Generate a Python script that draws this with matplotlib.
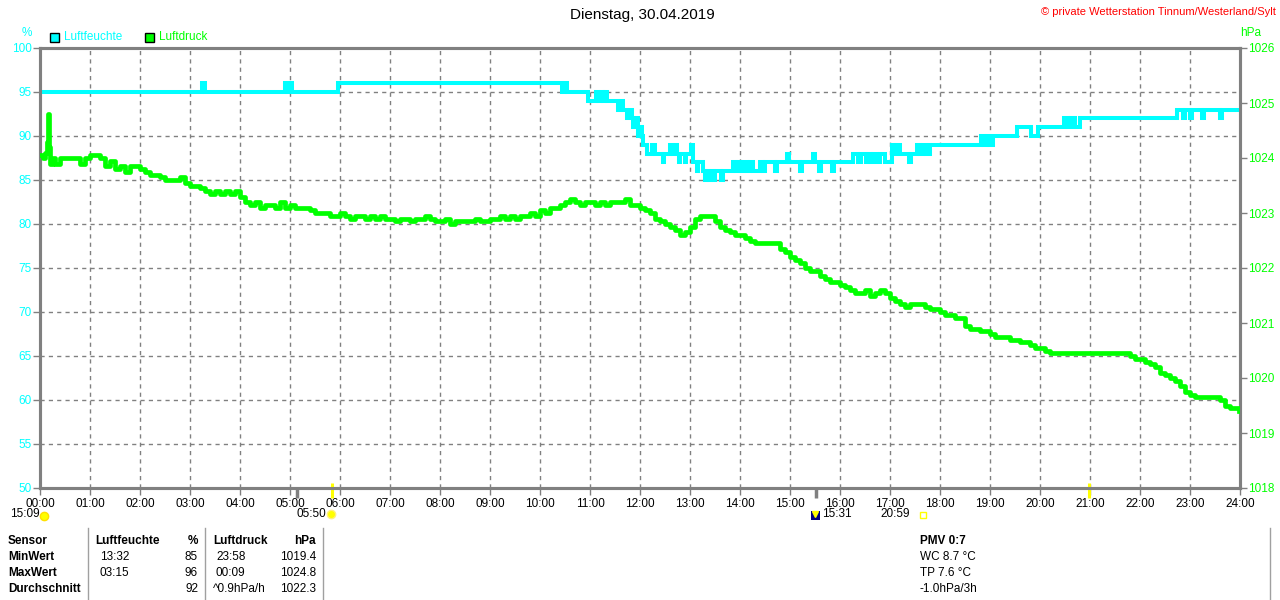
import matplotlib
matplotlib.use("Agg")
import matplotlib.pyplot as plt
from matplotlib.lines import Line2D
from matplotlib.patches import Rectangle

plt.rcParams['font.family'] = ['Liberation Sans', 'DejaVu Sans']

# ---------------- data ----------------
hum_t = [0, 3.24, 3.30, 4.90, 4.94, 4.96, 5.04, 5.96, 10.44, 10.50, 10.54, 10.96, 11.12, 11.16,
         11.22, 11.26, 11.30, 11.34, 11.56, 11.62, 11.66, 11.74, 11.80, 11.84, 11.86, 11.92,
         11.96, 12.00, 12.04, 12.06, 12.14, 12.24, 12.30, 12.46, 12.48, 12.60, 12.66, 12.70,
         12.74, 12.78, 12.80, 12.90, 12.92, 13.02, 13.06, 13.14, 13.16, 13.26, 13.30, 13.34,
         13.38, 13.42, 13.48, 13.50, 13.62, 13.66, 13.80, 13.86, 13.92, 13.96, 14.02, 14.08,
         14.14, 14.20, 14.26, 14.40, 14.46, 14.50, 14.70, 14.74, 14.94, 14.98, 15.20, 15.24,
         15.46, 15.50, 15.58, 15.62, 15.84, 15.88, 16.26, 16.36, 16.42, 16.52, 16.56, 16.62,
         16.66, 16.74, 16.80, 16.90, 17.04, 17.08, 17.12, 17.20, 17.26, 17.38, 17.42, 17.54,
         17.60, 17.66, 17.72, 17.80, 18.82, 18.88, 18.94, 18.98, 19.06, 19.54, 19.82, 19.96,
         20.48, 20.56, 20.62, 20.70, 20.80, 22.74, 22.86, 22.90, 23.00, 23.04, 23.24, 23.28,
         23.60, 23.64, 24.0]
hum_v = [95, 96, 95, 96, 95, 96, 95, 96, 95, 96, 95, 94, 95, 94,
         95, 94, 95, 94, 93, 94, 93, 92, 93, 92, 91, 92,
         90, 91, 90, 89, 88, 89, 88, 87, 88, 89, 88, 89,
         88, 87, 88, 87, 88, 89, 87, 86, 87, 86, 85, 86,
         85, 86, 85, 86, 85, 86, 86, 87, 86, 87, 86, 87,
         86, 87, 86, 87, 86, 87, 86, 87, 88, 87, 86, 87,
         88, 87, 86, 87, 86, 87, 88, 87, 88, 87, 88, 87,
         88, 87, 88, 87, 89, 88, 89, 88, 88, 87, 88, 89,
         88, 89, 88, 89, 90, 89, 90, 89, 90, 91, 90, 91,
         92, 91, 92, 91, 92, 93, 92, 93, 92, 93, 92, 93,
         92, 93, 93]

pres_t = [0.00, 0.05, 0.10, 0.13, 0.15, 0.17, 0.20, 0.25, 0.30, 0.40, 0.50, 0.60, 0.70, 0.80,
          0.90, 1.00, 1.10, 1.20, 1.30, 1.40, 1.50, 1.60, 1.70, 1.80, 1.90, 2.00, 2.10, 2.20,
          2.30, 2.40, 2.50, 2.60, 2.70, 2.80, 2.90, 3.00, 3.10, 3.20, 3.30, 3.40, 3.50, 3.60,
          3.70, 3.80, 3.90, 4.00, 4.10, 4.20, 4.30, 4.40, 4.50, 4.60, 4.70, 4.80, 4.90, 5.00,
          5.10, 5.20, 5.30, 5.40, 5.50, 5.60, 5.70, 5.80, 5.90, 6.00, 6.10, 6.20, 6.30, 6.40,
          6.50, 6.60, 6.70, 6.80, 6.90, 7.00, 7.10, 7.20, 7.30, 7.40, 7.50, 7.60, 7.70, 7.80,
          7.90, 8.00, 8.10, 8.20, 8.30, 8.40, 8.50, 8.60, 8.70, 8.80, 8.90, 9.00, 9.10, 9.20,
          9.30, 9.40, 9.50, 9.60, 9.70, 9.80, 9.90, 10.00, 10.10, 10.20, 10.30, 10.40, 10.50,
          10.60, 10.70, 10.80, 10.90, 11.00, 11.10, 11.20, 11.30, 11.40, 11.50, 11.60, 11.70,
          11.80, 11.90, 12.00, 12.10, 12.20, 12.30, 12.40, 12.50, 12.60, 12.70, 12.80, 12.90,
          13.00, 13.10, 13.20, 13.30, 13.40, 13.50, 13.60, 13.70, 13.80, 13.90, 14.00, 14.10,
          14.20, 14.30, 14.40, 14.50, 14.60, 14.70, 14.80, 14.90, 15.00, 15.10, 15.20, 15.30,
          15.40, 15.50, 15.60, 15.70, 15.80, 15.90, 16.00, 16.10, 16.20, 16.30, 16.40, 16.50,
          16.60, 16.70, 16.80, 16.90, 17.00, 17.10, 17.20, 17.30, 17.40, 17.50, 17.60, 17.70,
          17.80, 17.90, 18.00, 18.10, 18.20, 18.30, 18.40, 18.50, 18.60, 18.70, 18.80, 18.90,
          19.00, 19.10, 19.20, 19.30, 19.40, 19.50, 19.60, 19.70, 19.80, 19.90, 20.00, 20.10,
          20.20, 20.30, 20.40, 20.50, 20.60, 20.70, 20.80, 20.90, 21.00, 21.10, 21.20, 21.30,
          21.40, 21.50, 21.60, 21.70, 21.80, 21.90, 22.00, 22.10, 22.20, 22.30, 22.40, 22.50,
          22.60, 22.70, 22.80, 22.90, 23.00, 23.10, 23.20, 23.30, 23.40, 23.50, 23.60, 23.70,
          23.80, 23.97]
pres_v = [1024.05, 1024.0, 1024.1, 1024.3, 1024.8, 1024.2, 1023.9, 1024.0, 1023.9, 1024.0,
          1024.0, 1024.0, 1024.0, 1023.9, 1024.0, 1024.05, 1024.05, 1024.0, 1023.85, 1023.95,
          1023.8, 1023.85, 1023.75, 1023.85, 1023.85, 1023.8, 1023.75, 1023.7, 1023.7, 1023.65,
          1023.6, 1023.6, 1023.6, 1023.65, 1023.55, 1023.5, 1023.5, 1023.45, 1023.4, 1023.35,
          1023.4, 1023.35, 1023.4, 1023.35, 1023.4, 1023.3, 1023.2, 1023.15, 1023.2, 1023.1,
          1023.15, 1023.15, 1023.1, 1023.2, 1023.1, 1023.15, 1023.1, 1023.1, 1023.1, 1023.05,
          1023.0, 1023.0, 1023.0, 1022.95, 1022.95, 1023.0, 1022.95, 1022.9, 1022.95, 1022.95,
          1022.9, 1022.95, 1022.9, 1022.95, 1022.9, 1022.9, 1022.85, 1022.9, 1022.9, 1022.85,
          1022.9, 1022.9, 1022.95, 1022.9, 1022.85, 1022.85, 1022.9, 1022.8, 1022.85, 1022.85,
          1022.85, 1022.85, 1022.9, 1022.85, 1022.85, 1022.9, 1022.9, 1022.95, 1022.9, 1022.95,
          1022.9, 1022.95, 1022.95, 1023.0, 1022.95, 1023.05, 1023.0, 1023.1, 1023.1, 1023.15,
          1023.2, 1023.25, 1023.2, 1023.15, 1023.2, 1023.2, 1023.15, 1023.2, 1023.15, 1023.2,
          1023.2, 1023.2, 1023.25, 1023.15, 1023.15, 1023.1, 1023.05, 1023.0, 1022.9, 1022.85,
          1022.8, 1022.75, 1022.7, 1022.6, 1022.65, 1022.75, 1022.9, 1022.95, 1022.95, 1022.95,
          1022.85, 1022.75, 1022.7, 1022.65, 1022.6, 1022.6, 1022.55, 1022.5, 1022.45, 1022.45,
          1022.45, 1022.45, 1022.45, 1022.35, 1022.3, 1022.2, 1022.15, 1022.1, 1022.0, 1021.95,
          1021.95, 1021.85, 1021.8, 1021.75, 1021.75, 1021.7, 1021.65, 1021.6, 1021.55, 1021.55,
          1021.6, 1021.5, 1021.55, 1021.6, 1021.55, 1021.45, 1021.4, 1021.35, 1021.3, 1021.35,
          1021.35, 1021.35, 1021.3, 1021.25, 1021.25, 1021.2, 1021.15, 1021.15, 1021.1, 1021.1,
          1020.95, 1020.9, 1020.9, 1020.85, 1020.85, 1020.8, 1020.75, 1020.75, 1020.75, 1020.7,
          1020.7, 1020.65, 1020.65, 1020.6, 1020.55, 1020.55, 1020.5, 1020.45, 1020.45, 1020.45,
          1020.45, 1020.45, 1020.45, 1020.45, 1020.45, 1020.45, 1020.45, 1020.45, 1020.45, 1020.45,
          1020.45, 1020.45, 1020.45, 1020.4, 1020.35, 1020.35, 1020.3, 1020.25, 1020.2, 1020.1,
          1020.05, 1020.0, 1019.95, 1019.85, 1019.75, 1019.7, 1019.65, 1019.65, 1019.65, 1019.65,
          1019.65, 1019.6, 1019.5, 1019.45, 1019.4]

hum_ticks = [50, 55, 60, 65, 70, 75, 80, 85, 90, 95, 100]
pres_ticks = [1018, 1019, 1020, 1021, 1022, 1023, 1024, 1025, 1026]
hour_ticks = list(range(25))
hour_labels = ["%02d:00" % h for h in hour_ticks]

# events (hours)
event_gray = [5.14, 15.52]
event_yellow = [5.83, 20.98]

table_header = ["Sensor", "Luftfeuchte", "%", "Luftdruck", "hPa"]
table_rows = [["MinWert", "13:32", "85", "23:58", "1019.4"],
              ["MaxWert", "03:15", "96", "00:09", "1024.8"],
              ["Durchschnitt", "", "92", "^0.9hPa/h", "1022.3"]]
extra_lines = ["PMV 0:7", "WC 8.7 °C", "TP 7.6 °C", "-1.0hPa/3h"]

CYAN = "#00FFFF"
GREEN = "#00FF00"
GRAY = "#808080"

# ---------------- figure ----------------
W, H = 1280, 600
fig = plt.figure(figsize=(12.8, 6.0), dpi=100)
fig.patch.set_facecolor("white")

def fx(px):
    return px / W

def fy(py):
    return 1 - py / H

ax = fig.add_axes([fx(40), fy(488), fx(1200), 440 / H])
ax2 = ax.twinx()

ax.set_xlim(0, 24)
ax.set_ylim(50, 100)
ax2.set_ylim(1018, 1026)

ax.plot(hum_t, hum_v, drawstyle="steps-post", color=CYAN, lw=2.9, solid_joinstyle="miter",
        zorder=3)
ax2.plot(pres_t, pres_v, drawstyle="steps-post", color=GREEN, lw=3.4, zorder=3)

ax.set_xticks(hour_ticks)
ax.set_xticklabels(hour_labels, fontsize=8.5, color="black")
ax.set_yticks(hum_ticks)
ax.set_yticklabels([str(v) for v in hum_ticks], fontsize=8.5, color=CYAN)
ax2.set_yticks(pres_ticks)
ax2.set_yticklabels([str(v) for v in pres_ticks], fontsize=8.5, color=GREEN)

for a in (ax, ax2):
    for s in a.spines.values():
        s.set_color(GRAY)
        s.set_linewidth(2.2)
ax.tick_params(axis="x", length=5, width=1, color=GRAY, pad=2)
ax.tick_params(axis="y", length=5, width=1, color=GRAY, pad=1)
ax2.tick_params(axis="y", length=5, width=1, color=GRAY, pad=1)

ax.grid(True, color=GRAY, linestyle=(0, (3, 3)), linewidth=1.0)
ax.set_axisbelow(True)

# event ticks below the axis
for h in event_gray:
    ax.plot([h, h], [50, 48.9], color=GRAY, lw=2.5, clip_on=False, zorder=5,
            solid_capstyle="butt")
for h in event_yellow:
    ax.plot([h, h], [50.6, 48.9], color="#FFFF00", lw=2.2, clip_on=False, zorder=5,
            solid_capstyle="butt")

# event labels and icons
fig.text(fx(10), fy(514), "15:09", fontsize=8.5, va="center", ha="left")
fig.text(fx(326), fy(514), "05:50", fontsize=8.5, va="center", ha="right")
fig.text(fx(822), fy(514), "15:31", fontsize=8.5, va="center", ha="left")
fig.text(fx(910), fy(514), "20:59", fontsize=8.5, va="center", ha="right")
fig.add_artist(Line2D([fx(44)], [fy(516)], marker=(20, 0, 0), markersize=6,
                      color="#FFFF00", markeredgecolor="#FFE000"))
fig.add_artist(Line2D([fx(331)], [fy(514)], marker="o", markersize=6,
                      color="#FFFF00", markeredgecolor="#FFF080"))
fig.add_artist(Rectangle((fx(811), fy(520)), fx(9), 9 / H, facecolor="#000080",
                         edgecolor="none"))
fig.add_artist(Line2D([fx(815)], [fy(514)], marker="v", markersize=5,
                      color="#FFFF00", markeredgecolor="#FFFF00"))
fig.add_artist(Rectangle((fx(920), fy(518)), fx(6), 6 / H, facecolor="none",
                         edgecolor="#FFFF00", lw=1))

# title and header texts
fig.text(fx(642), fy(15), "Dienstag, 30.04.2019", fontsize=11, ha="center", va="center")
fig.text(fx(1276), fy(12), "© private Wetterstation Tinnum/Westerland/Sylt", fontsize=8,
         ha="right", va="center", color="#FF0000")
fig.text(fx(27), fy(33), "%", fontsize=8.5, ha="center", va="center", color=CYAN)
fig.text(fx(1251), fy(33), "hPa", fontsize=8.5, ha="center", va="center", color=GREEN)

# legend
fig.add_artist(Rectangle((fx(50), fy(42)), fx(9), 9 / H, facecolor=CYAN, edgecolor="black",
                         lw=1))
fig.text(fx(64), fy(37), "Luftfeuchte", fontsize=8.5, va="center", color=CYAN)
fig.add_artist(Rectangle((fx(145), fy(42)), fx(9), 9 / H, facecolor=GREEN,
                         edgecolor="black", lw=1))
fig.text(fx(159), fy(37), "Luftdruck", fontsize=8.5, va="center", color=GREEN)

# table
for xs in (88, 205, 323, 1270):
    fig.add_artist(Line2D([fx(xs), fx(xs)], [fy(528), fy(600)], color="#A0A0A0", lw=1))

row_y = [541, 557, 573, 589]
col_x = [8, 95, 198, 213, 316]
col_ha = ["left", "left", "right", "left", "right"]
for j, txt in enumerate(table_header):
    fig.text(fx(col_x[j]), fy(row_y[0]), txt, fontsize=8.5, fontweight="bold",
             ha=col_ha[j], va="center")
val_x = [8, 100, 198, 216, 316]
for i, row in enumerate(table_rows):
    for j, txt in enumerate(row):
        xx = val_x[j]
        if j == 3 and txt.startswith("^"):
            xx = 213
        fig.text(fx(xx), fy(row_y[i + 1]), txt, fontsize=8.5,
                 fontweight="bold" if j == 0 else "normal", ha=col_ha[j], va="center")

for i, txt in enumerate(extra_lines):
    fig.text(fx(920), fy(row_y[i]), txt, fontsize=8.5,
             fontweight="bold" if i == 0 else "normal", ha="left", va="center")

fig.savefig("out.png", dpi=100, facecolor="white")
